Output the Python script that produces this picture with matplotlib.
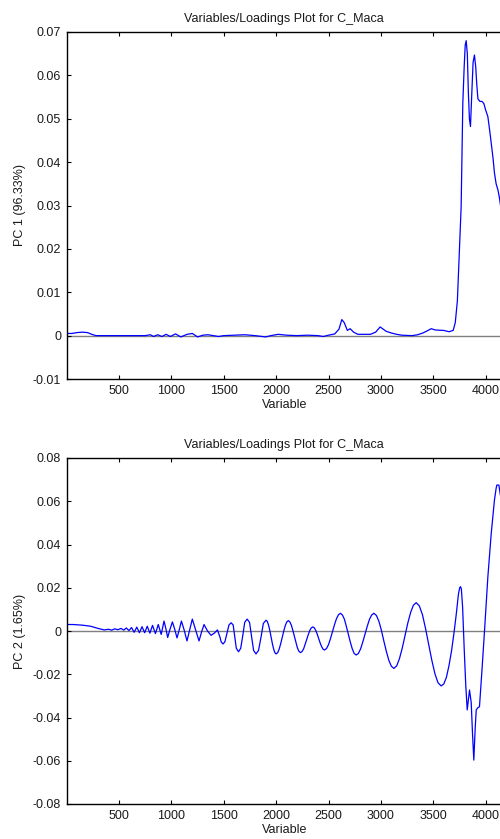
import matplotlib
matplotlib.use("Agg")
import matplotlib.pyplot as plt
from matplotlib.ticker import FuncFormatter

plt.rcParams['font.family'] = ['Liberation Sans', 'DejaVu Sans']
plt.rcParams['font.size'] = 9

title = 'Variables/Loadings Plot for C_Maca'
xticks = [500, 1000, 1500, 2000, 2500, 3000, 3500, 4000]

# PC 1 loadings
pc1_x = [1, 50, 100, 150, 200, 240, 280, 400, 600, 750, 800, 830, 870, 910,
         950, 990, 1040, 1090, 1150, 1200, 1250, 1300, 1350, 1400, 1450,
         1500, 1600, 1700, 1800, 1900, 1950, 2020, 2100, 2200, 2300, 2400,
         2450, 2500, 2560, 2600, 2627, 2650, 2680, 2706, 2740, 2780, 2900,
         2950, 2993, 3050, 3100, 3150, 3200, 3300, 3350, 3400, 3450, 3480,
         3520, 3600, 3650, 3690, 3710, 3730, 3750, 3766, 3782, 3795, 3805,
         3814, 3825, 3835, 3845, 3855, 3868, 3880, 3893, 3905, 3915, 3926,
         3945, 3965, 3983, 4000, 4021, 4040, 4053, 4070, 4084, 4100, 4117,
         4130, 4148, 4180]
pc1_y = [0.0005, 0.0005, 0.0007, 0.0008, 0.0007, 0.0003, 0.0000, 0.0000,
         0.0000, 0.0000, 0.0002, -0.0002, 0.0002, -0.0002, 0.0003, -0.0002,
         0.0004, -0.0003, 0.0003, 0.0005, -0.0003, 0.0001, 0.0002, 0.0000,
         -0.0002, 0.0000, 0.0001, 0.0002, 0.0000, -0.0003, 0.0000, 0.0003,
         0.0001, 0.0000, 0.0001, 0.0000, -0.0002, 0.0001, 0.0004, 0.0015,
         0.0037, 0.0030, 0.0012, 0.0016, 0.0008, 0.0003, 0.0003, 0.0008,
         0.0020, 0.0010, 0.0006, 0.0003, 0.0001, 0.0000, 0.0002, 0.0006,
         0.0012, 0.0016, 0.0013, 0.0012, 0.0009, 0.0012, 0.0030, 0.0080,
         0.0200, 0.0297, 0.0536, 0.0620, 0.0670, 0.0680, 0.0650, 0.0560,
         0.0500, 0.0482, 0.0560, 0.0630, 0.0647, 0.0620, 0.0580, 0.0546,
         0.0540, 0.0540, 0.0535, 0.0520, 0.0505, 0.0470, 0.0444, 0.0410,
         0.0375, 0.0350, 0.0336, 0.0320, 0.0290, 0.0260]

# PC 2 loadings
pc2_x = [1, 60, 150, 230, 300, 360, 400, 430, 460, 490, 520, 545, 570, 595,
         620, 645, 670, 695, 720, 745, 770, 795, 820, 848, 875, 903, 930,
         948, 965, 985, 1010, 1032, 1054, 1075, 1096, 1122, 1149, 1175,
         1200, 1232, 1264, 1288, 1312, 1345, 1379, 1410, 1440, 1465, 1475,
         1493, 1511, 1531, 1550, 1570, 1590, 1605, 1620, 1641, 1662, 1682,
         1700, 1723, 1746, 1765, 1785, 1808, 1832, 1856, 1878, 1904,
         1916, 1928, 1940, 1952, 1964, 1976, 1988, 2000,
         2015, 2029, 2044, 2058, 2073, 2088, 2102, 2117,
         2131, 2146, 2160, 2175, 2189, 2203, 2218, 2232,
         2247, 2262, 2276, 2291, 2306, 2321, 2335, 2350,
         2364, 2378, 2392, 2406, 2420, 2434, 2448, 2462,
         2481, 2500, 2519, 2538, 2557, 2576, 2595, 2614,
         2633, 2652, 2670, 2689, 2708, 2727, 2745, 2764,
         2785, 2806, 2827, 2848, 2870, 2891, 2912, 2933,
         2957, 2981, 3005, 3028, 3052, 3076, 3100, 3124,
         3151, 3177, 3204, 3230, 3257, 3284, 3310, 3337,
         3367, 3397, 3426, 3456, 3486, 3516, 3545, 3575,
         3600, 3625, 3650, 3675, 3700, 3720, 3740, 3752, 3760, 3768, 3780,
         3795, 3810, 3824, 3835, 3846, 3862, 3875, 3887, 3900, 3910, 3925,
         3941, 3965, 3989, 4021, 4053, 4084, 4100, 4107, 4126, 4148, 4200]
pc2_y = [0.0030, 0.0030, 0.0027, 0.0022, 0.0012, 0.0005, 0.0008, 0.0004,
         0.0010, 0.0006, 0.0012, 0.0004, 0.0014, 0.0002, 0.0016, -0.0006,
         0.0018, -0.0008, 0.0020, -0.0008, 0.0022, -0.0010, 0.0026, -0.0012,
         0.0030, -0.0016, 0.0046, 0.0010, -0.0030, 0.0005, 0.0042, 0.0008,
         -0.0032, 0.0005, 0.0046, 0.0005, -0.0046, 0.0005, 0.0055, 0.0005,
         -0.0046, -0.0005, 0.0030, 0.0000, -0.0020, -0.0010, 0.0005, -0.0030,
         -0.0050, -0.0060, -0.0050, -0.0011, 0.0028, 0.0038, 0.0028,
         -0.0025, -0.0080, -0.0096, -0.0080, -0.0020, 0.0040, 0.0055, 0.0040,
         -0.0025, -0.0090, -0.0106, -0.0090, -0.0028, 0.0035, 0.0050,
         0.0044, 0.0027, 0.0002, -0.0028, -0.0058, -0.0083, -0.0100, -0.0106,
         -0.0100, -0.0084, -0.0058, -0.0029, 0.0000, 0.0026, 0.0042, 0.0048,
         0.0042, 0.0026, 0.0002, -0.0026, -0.0054, -0.0078, -0.0094, -0.0100,
         -0.0095, -0.0083, -0.0063, -0.0041, -0.0018, 0.0002, 0.0014, 0.0019,
         0.0015, 0.0003, -0.0014, -0.0035, -0.0055, -0.0072, -0.0084, -0.0088,
         -0.0081, -0.0063, -0.0035, -0.0003, 0.0029, 0.0057, 0.0075, 0.0082,
         0.0074, 0.0054, 0.0022, -0.0015, -0.0051, -0.0083, -0.0104, -0.0111,
         -0.0104, -0.0083, -0.0051, -0.0015, 0.0022, 0.0054, 0.0074, 0.0082,
         0.0072, 0.0045, 0.0003, -0.0046, -0.0094, -0.0136, -0.0163, -0.0173,
         -0.0161, -0.0128, -0.0079, -0.0021, 0.0037, 0.0086, 0.0119, 0.0131,
         0.0116, 0.0075, 0.0012, -0.0062, -0.0135, -0.0198, -0.0239, -0.0254,
         -0.0245, -0.0215, -0.0160, -0.0090, 0.0000, 0.0080, 0.0170, 0.0200,
         0.0205, 0.0195, 0.0110, -0.0080, -0.0250, -0.0365, -0.0320, -0.0273,
         -0.0330, -0.0480, -0.0597, -0.0450, -0.0365, -0.0355, -0.0350,
         -0.0180, 0.0000, 0.0250, 0.0450, 0.0606, 0.0660, 0.0675, 0.0675,
         0.0606, 0.0500]

panels = [
    (pc1_x, pc1_y, 'PC 1 (96.33%)', (-0.01, 0.07), [-0.01, 0, 0.01, 0.02, 0.03, 0.04, 0.05, 0.06, 0.07]),
    (pc2_x, pc2_y, 'PC 2 (1.65%)', (-0.08, 0.08), [-0.08, -0.06, -0.04, -0.02, 0, 0.02, 0.04, 0.06, 0.08]),
]


def fmt(v, pos):
    if abs(v) < 1e-12:
        return '0'
    return ('%.2f' % v)


fig = plt.figure(figsize=(5.0, 8.39), dpi=100)
W, H = 500.0, 839.0
boxes = [(32, 379), (458, 804)]

for (xs, ys, ylab, ylim, yt), (top, bot) in zip(panels, boxes):
    ax = fig.add_axes([66.7 / W, 1 - bot / H, (502 - 66.7) / W, (bot - top) / H])
    ax.axhline(0, color='#808080', lw=1.0, zorder=1)
    ax.plot(xs, ys, color='#0000ff', lw=0.9, zorder=2)
    ax.set_xlim(1, 4156)
    ax.set_ylim(*ylim)
    ax.set_xticks(xticks)
    ax.set_yticks(yt)
    ax.yaxis.set_major_formatter(FuncFormatter(fmt))
    ax.tick_params(direction='in', length=3, width=0.8, top=True, right=False,
                   colors='black', labelcolor='#1a1a1a', pad=4)
    for s in ax.spines.values():
        s.set_linewidth(1.0)
    ax.spines['right'].set_visible(False)
    ax.set_title(title, fontsize=9, pad=7, color='#1a1a1a')
    ax.set_xlabel('Variable', color='#1a1a1a', labelpad=2)
    ax.set_ylabel(ylab, color='#1a1a1a')
    ax.yaxis.set_label_coords(-0.107, 0.5)
    ax.yaxis.label.set_va('center')

fig.savefig('out.png', dpi=100)
